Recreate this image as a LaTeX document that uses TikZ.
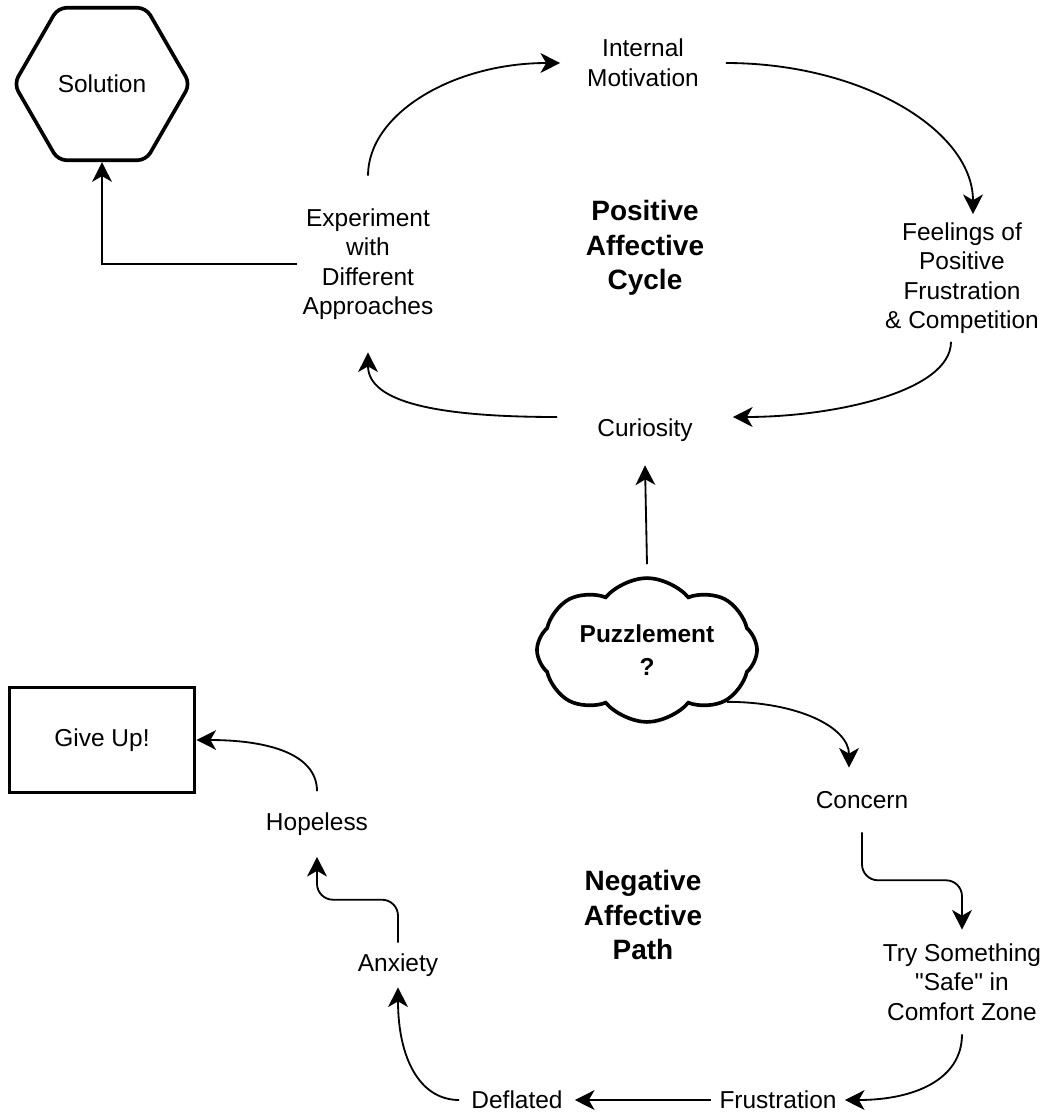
\documentclass[tikz,border=0pt]{standalone}
\usepackage{fontspec}
\setmainfont{Liberation Sans}
\usetikzlibrary{arrows.meta,shapes.geometric,shapes.symbols}

\begin{document}
\begin{tikzpicture}[
    x=0.025cm,y=-0.025cm,
    txt/.style={font=\fontsize{17.4}{21}\selectfont,align=center,inner sep=0pt},
    lbl/.style={font=\fontsize{19.9}{24.5}\selectfont\bfseries,align=center,inner sep=0pt},
    heavy/.style={draw,line width=2.6pt},
    arr/.style={-{Stealth[length=14pt,width=14pt,inset=4pt]},line width=1.3pt},
  ]
    \useasboundingbox (0,0) rectangle (1044,1120);
    % positive cycle
    \node[heavy,txt,regular polygon,regular polygon sides=6,minimum size=4.4cm,
          rounded corners=6pt](sol) at (102,84){Solution};
    \node[txt,minimum width=4.125cm,minimum height=1.5cm](motiv) at (643,63){Internal\\Motivation};
    \node[txt,minimum width=4.25cm,minimum height=3.175cm](feel) at (962,278)
        {Feelings of\\Positive\\Frustration\\\& Competition};
    \node[txt,minimum width=4.375cm,minimum height=1.75cm](curio) at (645,430){Curiosity};
    \node[txt,minimum width=3.55cm,minimum height=4.4cm](expt) at (368,264)
        {Experiment\\with\\Different\\Approaches};
    \node[lbl](poslbl) at (645,248){Positive\\Affective\\Cycle};
    % puzzlement
    \node[heavy,txt,font=\fontsize{17.4}{23}\selectfont\bfseries,cloud,cloud puffs=8,
          cloud puff arc=100,aspect=1.6,minimum width=5.5cm,minimum height=3.5cm](puzz) at (647,650)
        {Puzzlement\\?};
    % negative path
    \node[txt,minimum width=4cm,minimum height=1.6cm](conc) at (862,800){Concern};
    \node[txt,minimum width=4.25cm,minimum height=2.6cm](tryz) at (962,982)
        {Try Something\\\textquotedbl Safe\textquotedbl{} in\\Comfort Zone};
    \node[txt,minimum width=3.325cm,minimum height=1cm](frus) at (778,1100){Frustration};
    \node[txt,minimum width=2.875cm,minimum height=1cm](defl) at (517,1100){Deflated};
    \node[txt,minimum width=2.5cm,minimum height=1.1cm](anx) at (398,965){Anxiety};
    \node[txt,minimum width=2.75cm,minimum height=1.625cm](hope) at (317,824){Hopeless};
    \node[heavy,txt,minimum width=4.625cm,minimum height=2.625cm](give) at (102,740){Give Up!};
    \node[lbl](neglbl) at (643,915){Negative\\Affective\\Path};

    \draw[arr](expt.north)..controls +(0,-62) and +(-107,0)..(motiv.west);
    \draw[arr](motiv.east)..controls +(136,0) and +(0,-84)..([xshift=0.275cm]feel.north);
    \draw[arr]([xshift=-0.275cm]feel.south)..controls +(0,50) and +(100,0)..
      ([yshift=0.325cm]curio.east);
    \draw[arr]([yshift=0.325cm]curio.west)..controls +(-120,0) and +(0,50)..(expt.south);
    \draw[arr](expt.west)-|(sol.south);
    \draw[arr]([yshift=0.3cm]puzz.north)--(curio.south);
    \draw[arr](puzz.-33)..controls +(72,0) and +(0,-40)..([xshift=-0.325cm]conc.north);
    \draw[arr,rounded corners=0.4cm](conc.south)--++(0,48)-|(tryz.north);
    \draw[arr](tryz.south)..controls +(0,45) and +(70,0)..(frus.east);
    \draw[arr](frus.west)--(defl.east);
    \draw[arr](defl.west)..controls +(-40,0) and +(0,70)..(anx.south);
    \draw[arr,rounded corners=0.4cm](anx.north)--++(0,-43)-|(hope.south);
    \draw[arr](hope.north)..controls +(0,-40) and +(65,0)..(give.east);
  \end{tikzpicture}
\end{document}
